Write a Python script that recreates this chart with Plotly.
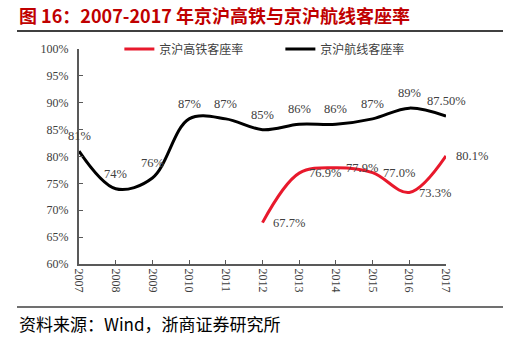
import plotly.graph_objects as go

years = [2007, 2008, 2009, 2010, 2011, 2012, 2013, 2014, 2015, 2016, 2017]
air_rate = [81, 74, 76, 87, 87, 85, 86, 86, 87, 89, 87.5]
air_labels = ["81%", "74%", "76%", "87%", "87%", "85%", "86%", "86%", "87%", "89%", "87.50%"]
hsr_years = [2012, 2013, 2014, 2015, 2016, 2017]
hsr_rate = [67.7, 76.9, 77.9, 77.0, 73.3, 80.1]
hsr_labels = ["67.7%", "76.9%", "77.9%", "77.0%", "73.3%", "80.1%"]
y_ticks = [60, 65, 70, 75, 80, 85, 90, 95, 100]
y_ticklabels = [f"{v}%" for v in y_ticks]

RED = "#E8192C"
AX = "#595959"
SERIF = "Liberation Serif"
CJK = "Noto Sans CJK SC"
LABEL_FONT = dict(family=SERIF, size=12.5, color="#404040")

fig = go.Figure()
fig.add_trace(go.Scatter(
    x=hsr_years, y=hsr_rate, name="京沪高铁客座率", mode="lines",
    line=dict(color=RED, width=3, shape="spline", smoothing=1.0),
    cliponaxis=False,
))
fig.add_trace(go.Scatter(
    x=years, y=air_rate, name="京沪航线客座率", mode="lines",
    line=dict(color="#000000", width=3, shape="spline", smoothing=1.0),
    cliponaxis=False,
))

for xv, yv, t in zip(years, air_rate, air_labels):
    fig.add_annotation(x=xv, y=yv, text=t, showarrow=False, xanchor="center",
                       yanchor="middle", yshift=15, font=LABEL_FONT)
for xv, yv, t in zip(hsr_years, hsr_rate, hsr_labels):
    fig.add_annotation(x=xv, y=yv, text=t, showarrow=False, xanchor="left",
                       yanchor="middle", xshift=8, font=LABEL_FONT)

fig.update_layout(
    width=513, height=341,
    margin=dict(l=79, r=67, t=49, b=77),
    paper_bgcolor="white", plot_bgcolor="white",
    showlegend=True,
    legend=dict(
        orientation="h", x=0.11, y=1.0, xanchor="left", yanchor="middle",
        xref="paper", yref="paper",
        font=dict(family=CJK, size=12, color="#404040"),
        bgcolor="rgba(0,0,0,0)", entrywidth=116, itemwidth=30,
        traceorder="normal",
    ),
    xaxis=dict(
        range=[2007, 2017], tickmode="array", tickvals=years,
        ticktext=[str(y) for y in years], tickangle=90,
        showline=True, linecolor=AX, linewidth=2,
        ticks="inside", ticklen=4, tickcolor=AX, tickwidth=1,
        showgrid=False, zeroline=False,
        tickfont=dict(family=SERIF, size=12, color="#404040"),
    ),
    yaxis=dict(
        range=[60, 100], tickmode="array", tickvals=y_ticks, ticktext=y_ticklabels,
        showline=True, linecolor=AX, linewidth=2,
        ticks="inside", ticklen=4, tickcolor=AX, tickwidth=1,
        showgrid=False, zeroline=False,
        tickfont=dict(family=SERIF, size=12, color="#404040"),
        ticklabelstandoff=6,
    ),
)

fig.add_annotation(
    text="<b>图 16：2007-2017 年京沪高铁与京沪航线客座率</b>",
    xref="paper", yref="paper", x=(17 - 79) / 367, y=1 + (49 - 15) / 215,
    xanchor="left", yanchor="middle", showarrow=False,
    font=dict(family=CJK, size=18, color="#C00000"),
)
fig.add_annotation(
    text="资料来源：Wind，浙商证券研究所",
    xref="paper", yref="paper", x=(17 - 79) / 367, y=-(323 - 264) / 215,
    xanchor="left", yanchor="middle", showarrow=False,
    font=dict(family=CJK, size=17, color="#000000"),
)
fig.add_shape(type="line", xref="paper", yref="paper",
              x0=(17 - 79) / 367, x1=(503 - 79) / 367,
              y0=1 + (49 - 31) / 215, y1=1 + (49 - 31) / 215,
              line=dict(color="#000000", width=1.5))
fig.add_shape(type="line", xref="paper", yref="paper",
              x0=(17 - 79) / 367, x1=(503 - 79) / 367,
              y0=-(307 - 264) / 215, y1=-(307 - 264) / 215,
              line=dict(color="#404040", width=1.5))

fig.write_html("out.html")
